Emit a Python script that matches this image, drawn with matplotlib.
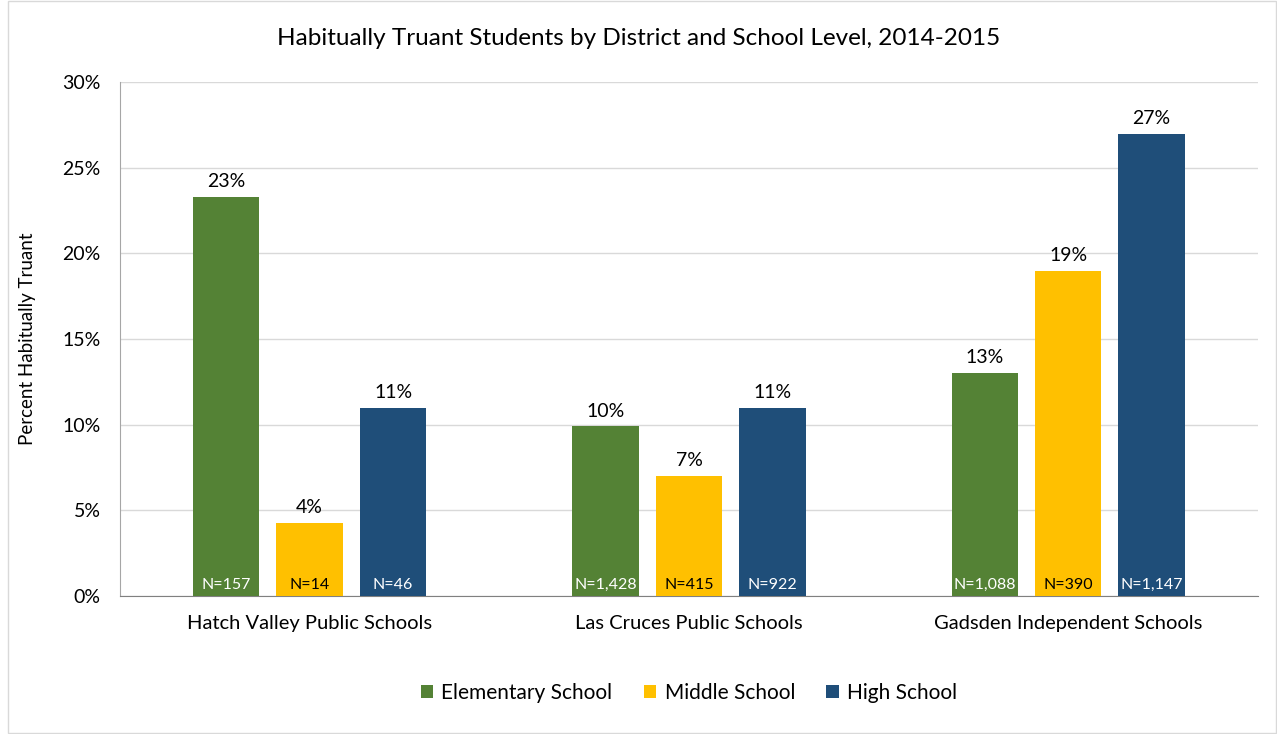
import matplotlib
matplotlib.use("Agg")
import matplotlib.pyplot as plt
from matplotlib.patches import Rectangle
import numpy as np

plt.rcParams['font.family'] = ['Lato', 'DejaVu Sans']

districts = ["Hatch Valley Public Schools", "Las Cruces Public Schools", "Gadsden Independent Schools"]
series = ["Elementary School", "Middle School", "High School"]
elementary = [23.3, 9.9, 13.0]
middle = [4.25, 7.0, 19.0]
high = [11.0, 11.0, 27.0]
elem_labels = ["23%", "10%", "13%"]
middle_labels = ["4%", "7%", "19%"]
high_labels = ["11%", "11%", "27%"]
elem_n = ["N=157", "N=1,428", "N=1,088"]
middle_n = ["N=14", "N=415", "N=390"]
high_n = ["N=46", "N=922", "N=1,147"]
yticks = [0, 5, 10, 15, 20, 25, 30]

colors = ["#548235", "#FFC000", "#1F4E79"]
ncolors = ["white", "black", "white"]

fig = plt.figure(figsize=(12.77, 7.34), dpi=100)
ax = fig.add_axes([0.094, 0.188, 0.891, 0.700])

x = np.arange(len(districts))
width = 0.175
step = 0.22
data = [elementary, middle, high]
labels = [elem_labels, middle_labels, high_labels]
nlabels = [elem_n, middle_n, high_n]
for i, (vals, lab, nl) in enumerate(zip(data, labels, nlabels)):
    pos = x + (i - 1) * step
    bars = ax.bar(pos, vals, width, color=colors[i], label=series[i], zorder=3)
    for b, v, l, n in zip(bars, vals, lab, nl):
        ax.annotate(l, (b.get_x() + b.get_width() / 2, v), xytext=(0, 5),
                    textcoords="offset points", ha="center", va="bottom",
                    fontsize=14, color="black")
        ax.annotate(n, (b.get_x() + b.get_width() / 2, 0), xytext=(0, 3),
                    textcoords="offset points", ha="center", va="bottom",
                    fontsize=11.5, color=ncolors[i])

ax.set_xlim(-0.5, len(districts) - 0.5)
ax.set_ylim(0, 30)
ax.set_yticks(yticks)
ax.set_yticklabels([f"{t}%" for t in yticks], fontsize=14)
ax.set_xticks(x)
ax.set_xticklabels(districts, fontsize=14.5)
ax.tick_params(axis='x', length=0, pad=14)
ax.tick_params(axis='y', length=0, pad=14)
ax.grid(axis='y', color="#d9d9d9", linewidth=1, zorder=0)
for s in ["top", "right"]:
    ax.spines[s].set_visible(False)
ax.spines["left"].set_color("#a6a6a6")
ax.spines["bottom"].set_color("#808080")
ax.set_ylabel("Percent Habitually Truant", fontsize=13.5, labelpad=19)

fig.suptitle("Habitually Truant Students by District and School Level, 2014-2015",
             fontsize=17.5, y=0.962)

ax.legend(loc="center", bbox_to_anchor=(0.5, -0.189), ncol=3, frameon=False,
          fontsize=15, handlelength=0.6, handleheight=0.6, columnspacing=1.5,
          handletextpad=0.4)

fig.patches.append(Rectangle((0.006, 0.001), 0.993, 0.998, transform=fig.transFigure,
                             fill=False, edgecolor="#d9d9d9", linewidth=1))

fig.savefig("out.png", dpi=100)
